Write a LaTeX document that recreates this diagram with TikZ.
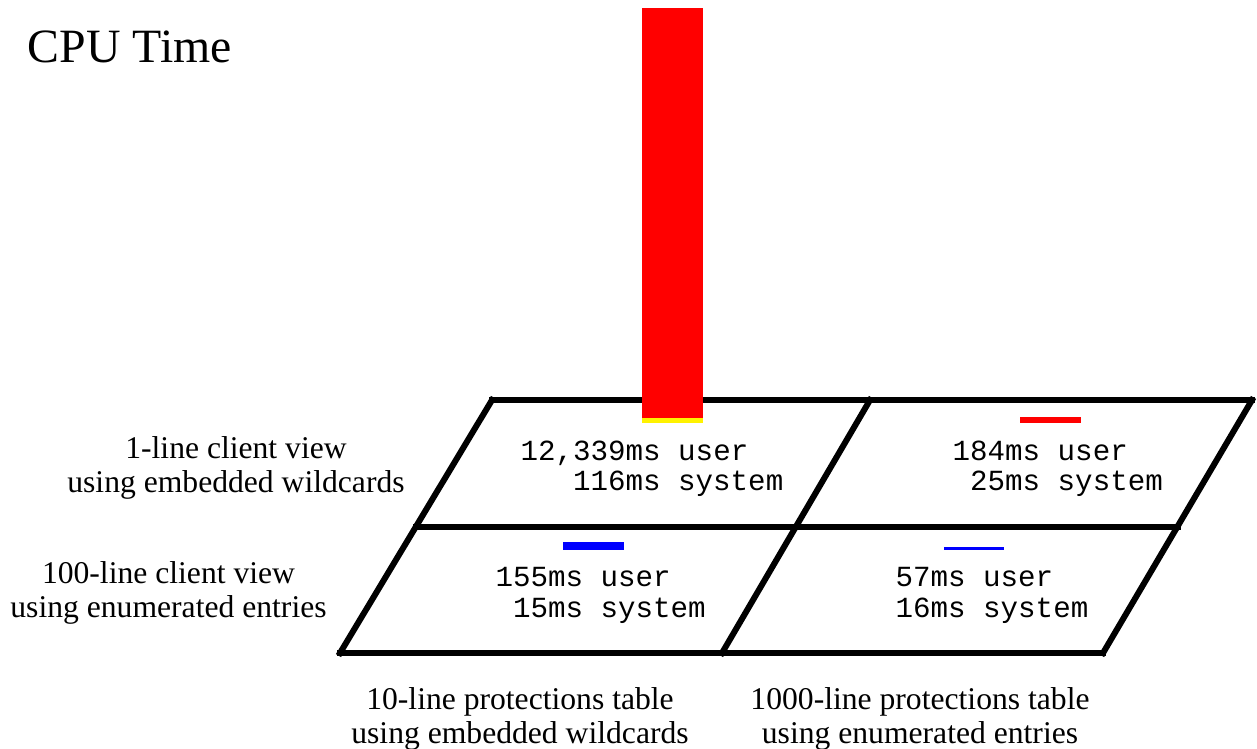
\documentclass[tikz,border=0pt]{standalone}
\usepackage{fontspec}
\setmainfont{Liberation Serif}
\setmonofont{Liberation Mono}
\usetikzlibrary{calc, positioning}

\tikzset{
  gridline/.style={line width=0.06cm, line cap=rect},
  caption/.style={font=\fontsize{9}{9.4}\selectfont, align=center, inner sep=0pt, anchor=base},
  timing/.style={font=\ttfamily\fontsize{8.3}{8.5}\selectfont, inner sep=0pt, anchor=base west},
}

\begin{document}
\begin{tikzpicture}
  \useasboundingbox (0,0) rectangle (12.57,-7.48);

  \node[anchor=base west, inner sep=0pt, font=\fontsize{13.6}{15}\selectfont] (title) at (0.27,-0.63) {CPU Time};

  % the 2x2 floor
  \coordinate (tl) at (4.92,-4.00);
  \coordinate (tr) at (12.52,-4.00);
  \coordinate (bl) at (3.40,-6.53);
  \coordinate (br) at (11.03,-6.53);
  \coordinate (tm) at (8.70,-4.00);
  \coordinate (bm) at (7.22,-6.53);
  \draw[gridline] (tl) -- (tr);
  \draw[gridline] (bl) -- (br);
  \draw[gridline] ($(tl)!0.5!(bl)$) -- ($(tr)!0.5!(br)$);
  \draw[gridline] (tl) -- (bl);
  \draw[gridline] (tm) -- (bm);
  \draw[gridline] (tr) -- (br);

  % bars
  \fill[red] (6.42,-0.08) rectangle (7.03,-4.18);
  \fill[yellow] (6.42,-4.18) rectangle (7.03,-4.23);
  \fill[red] (10.20,-4.17) rectangle (10.81,-4.23);
  \fill[blue] (5.63,-5.42) rectangle (6.24,-5.50);
  \fill[blue] (9.44,-5.47) rectangle (10.04,-5.50);

  % times per cell
  \node[timing] (u1) at (5.20,-4.60) {12,339ms user};
  \node[timing] (s1) at (5.725,-4.90) {116ms system};
  \node[timing] (u2) at (9.52,-4.60) {184ms user};
  \node[timing] (s2) at (9.695,-4.90) {25ms system};
  \node[timing] (u3) at (4.95,-5.86) {155ms user};
  \node[timing] (s3) at (5.125,-6.17) {15ms system};
  \node[timing] (u4) at (8.95,-5.86) {57ms user};
  \node[timing] (s4) at (8.95,-6.17) {16ms system};

  % row and column captions (base = last line)
  \node[caption] (row1) at (2.36,-4.92) {1-line client view\\using embedded wildcards};
  \node[caption] (row2) at (1.685,-6.17) {100-line client view\\using enumerated entries};
  \node[caption] (col1) at (5.20,-7.43) {10-line protections table\\using embedded wildcards};
  \node[caption] (col2) at (9.20,-7.43) {1000-line protections table\\using enumerated entries};
\end{tikzpicture}
\end{document}
